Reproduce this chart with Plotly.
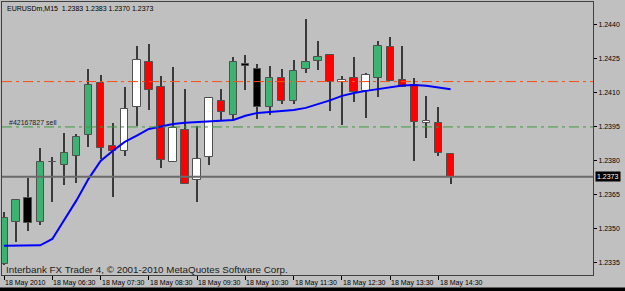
import plotly.graph_objects as go

# ---------------- data ----------------
bar_index = list(range(38))
opens = [1.23346, 1.23532, 1.23635, 1.23532, 1.23797, 1.23782, 1.23823, 1.23915, 1.24145, 1.23866,
         1.23845, 1.24037, 1.24237, 1.24125, 1.23794, 1.23937, 1.23716, 1.23816, 1.24066, 1.24003,
         1.24226, 1.24206, 1.24036, 1.24166, 1.24065, 1.24205, 1.24243, 1.24268, 1.24147, 1.24166,
         1.24107, 1.24165, 1.24301, 1.24157, 1.24137, 1.23966, 1.23968, 1.2383]
highs = [1.23575, 1.23628, 1.23725, 1.23856, 1.23816, 1.23925, 1.23919, 1.24205, 1.24179, 1.23968,
         1.24125, 1.24307, 1.24316, 1.24175, 1.24216, 1.24116, 1.23956, 1.24084, 1.24116, 1.24258,
         1.24268, 1.24228, 1.24217, 1.24206, 1.24246, 1.24426, 1.24327, 1.24268, 1.24176, 1.24258,
         1.24188, 1.24329, 1.24347, 1.24309, 1.24168, 1.24087, 1.24038, 1.2383]
lows = [1.23341, 1.23444, 1.23493, 1.23518, 1.23620, 1.23694, 1.23702, 1.23862, 1.23809, 1.23643,
        1.23820, 1.23952, 1.24025, 1.23771, 1.23794, 1.23699, 1.23620, 1.23782, 1.23981, 1.23981,
        1.24113, 1.23984, 1.24002, 1.24050, 1.24050, 1.24190, 1.24201, 1.24021, 1.23959, 1.24062,
        1.23991, 1.24081, 1.24154, 1.24125, 1.23801, 1.23900, 1.23820, 1.2370]
closes = [1.23549, 1.23628, 1.23525, 1.23797, 1.23794, 1.23837, 1.23907, 1.24135, 1.23856, 1.23845,
          1.24028, 1.24246, 1.24113, 1.23804, 1.23946, 1.23699, 1.23808, 1.24077, 1.24016, 1.24237,
          1.24219, 1.24036, 1.24166, 1.24065, 1.24197, 1.24237, 1.24258, 1.24146, 1.24156, 1.24106,
          1.24177, 1.24307, 1.24154, 1.24125, 1.23973, 1.23974, 1.23834, 1.2373]
candle_kind = ["G", "G", "K", "G", "K", "G", "G", "G", "R", "R",
               "W", "W", "R", "R", "W", "R", "W", "W", "R", "G",
               "K", "K", "G", "R", "G", "G", "G", "R", "W", "R",
               "W", "G", "R", "R", "R", "W", "R", "R"]
moving_avg = [1.23426, 1.23426, 1.23425, 1.23428, 1.23456, 1.23540, 1.23626, 1.23721, 1.23800, 1.23844,
              1.23884, 1.23912, 1.23941, 1.23952, 1.23963, 1.23968, 1.23971, 1.23974, 1.23979, 1.23981,
              1.23999, 1.24012, 1.24016, 1.24021, 1.24025, 1.24034, 1.24049, 1.24067, 1.24087, 1.24100,
              1.24109, 1.24118, 1.24126, 1.24133, 1.24135, 1.24132, 1.24124, 1.24116]
x_tick_index = [0, 4, 8, 12, 16, 20, 24, 28, 32, 36]
x_tick_text = ["18 May 2010", "18 May 06:30", "18 May 07:30", "18 May 08:30", "18 May 09:30",
               "18 May 10:30", "18 May 11:30", "18 May 12:30", "18 May 13:30", "18 May 14:30"]
y_tick_vals = [1.2335, 1.2350, 1.2365, 1.2380, 1.2395, 1.2410, 1.2425, 1.2440]
y_tick_text = ["1.2335", "1.2350", "1.2365", "1.2380", "1.2395", "1.2410", "1.2425", "1.2440"]
stop_level = 1.2415
order_level = 1.2395
order_label = "#42167827 sell"
bid_price = 1.2373
header = "EURUSDm,M15  1.2383 1.2383 1.2370 1.2373"
footer = "Interbank FX Trader 4, © 2001-2010 MetaQuotes Software Corp."

# ---------------- styling ----------------
BG = "#c0c0c0"
FRAME = "#404040"
WICK = "#3a3a3a"
kind_color = {"G": "#3cb371", "R": "#ff0000", "W": "#ffffff", "K": "#000000"}
FONT = "Liberation Sans"

body_base = [min(o, c) for o, c in zip(opens, closes)]
body_len = [max(abs(c - o), 0.00002) for o, c in zip(opens, closes)]
wick_len = [h - l for h, l in zip(highs, lows)]
body_colors = [kind_color[k] for k in candle_kind]

fig = go.Figure()
fig.add_trace(go.Bar(x=bar_index, y=wick_len, base=lows, width=0.09,
                     marker=dict(color=WICK, line=dict(width=0)), hoverinfo="skip"))
fig.add_trace(go.Bar(x=bar_index, y=body_len, base=body_base, width=0.62,
                     marker=dict(color=body_colors, line=dict(color="#505050", width=1)),
                     hoverinfo="skip"))
fig.add_trace(go.Scatter(x=bar_index, y=moving_avg, mode="lines",
                         line=dict(color="#0000ff", width=2), hoverinfo="skip"))

# horizontal levels
fig.add_shape(type="line", xref="paper", x0=0, x1=1, yref="y", y0=stop_level, y1=stop_level,
              line=dict(color="#ff4d10", width=1, dash="10px,4px,3px,4px"))
fig.add_shape(type="line", xref="paper", x0=0, x1=1, yref="y", y0=order_level, y1=order_level,
              line=dict(color="#3f9a3f", width=1, dash="10px,4px,3px,4px"))
fig.add_shape(type="line", xref="paper", x0=0, x1=1, yref="y", y0=bid_price, y1=bid_price,
              line=dict(color="#6a6a6a", width=2))

# bottom black strip (window border of the terminal)
fig.add_annotation(xref="paper", yref="paper", x=0.5, y=-0.043, text=" ", showarrow=False,
                   xanchor="center", yanchor="top", width=700, height=6, borderpad=0,
                   bgcolor="#000000", font=dict(size=1))

# annotations
fig.add_annotation(xref="paper", yref="y", x=0.008, y=order_level, text=order_label, showarrow=False,
                   xanchor="left", yanchor="bottom", yshift=-1, font=dict(family=FONT, size=7, color="#202020"))
fig.add_annotation(xref="paper", yref="paper", x=0.005, y=1, text=header, showarrow=False,
                   xanchor="left", yanchor="top", yshift=-1, font=dict(family=FONT, size=7, color="#000000"))
fig.add_annotation(xref="paper", yref="paper", x=0.003, y=0, text=footer, showarrow=False,
                   xanchor="left", yanchor="bottom", yshift=-2, font=dict(family=FONT, size=9.8, color="#202020"))
fig.add_annotation(xref="paper", yref="y", x=1, y=bid_price, text=f"{bid_price:.4f}",
                   showarrow=False, xanchor="left", yanchor="middle", xshift=2,
                   bgcolor="#000000", font=dict(family=FONT, size=7, color="#ffffff"), borderpad=1)
for xi, txt in zip(x_tick_index, x_tick_text):
    fig.add_annotation(xref="x", yref="paper", x=xi, y=0, text=txt, showarrow=False,
                       xanchor="left", yanchor="top", xshift=-1, yshift=-2,
                       font=dict(family=FONT, size=7, color="#000000"))

fig.update_layout(
    width=625, height=291,
    margin=dict(l=2, r=32, t=2, b=16),
    paper_bgcolor=BG, plot_bgcolor=BG,
    barmode="overlay", showlegend=False, bargap=0,
    font=dict(family=FONT, size=7, color="#000000"),
)
fig.update_xaxes(range=[-0.17, 48.8], showgrid=False, zeroline=False,
                 tickvals=x_tick_index, showticklabels=False,
                 ticks="outside", ticklen=4, tickcolor="#000000",
                 showline=True, linecolor=FRAME, linewidth=1, mirror=True)
fig.update_yaxes(range=[1.23297, 1.24501], side="right", showgrid=False, zeroline=False,
                 tickvals=y_tick_vals, ticktext=y_tick_text,
                 ticks="outside", ticklen=3, tickcolor="#000000",
                 tickfont=dict(family=FONT, size=7, color="#000000"),
                 showline=True, linecolor=FRAME, linewidth=1, mirror=True)

fig.write_html("out.html")
